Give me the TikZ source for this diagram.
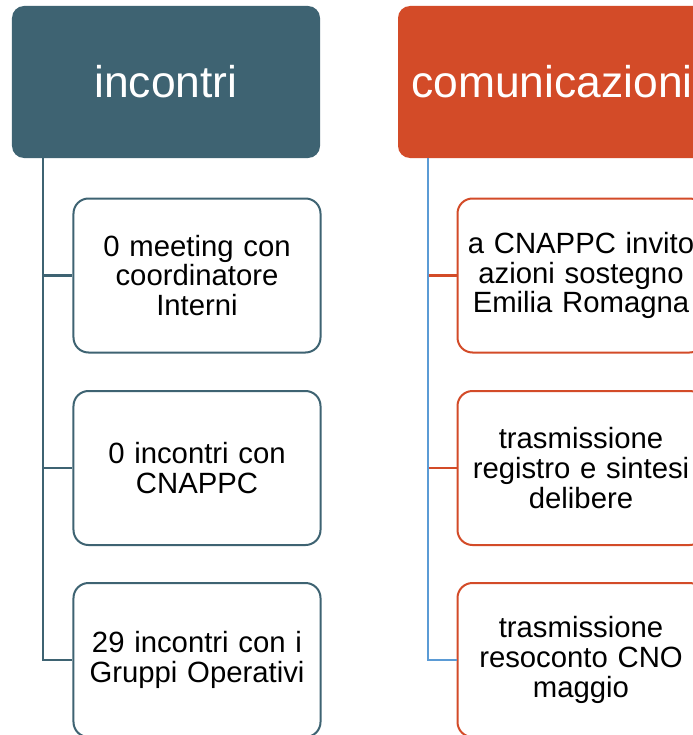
\documentclass[tikz,border=0pt]{standalone}
\usepackage{fontspec}
\setmainfont{Liberation Sans}
\definecolor{teal}{RGB}{62,99,114}
\definecolor{orng}{RGB}{211,75,40}
\definecolor{blu}{RGB}{91,155,213}
\tikzset{
  x=1bp,y=1bp,
  head/.style={draw=none,fill=#1,rounded corners=12bp,minimum width=308bp,minimum height=152bp,
    inner sep=0pt,text=white,font=\fontsize{44.6}{46}\selectfont},
  child/.style={draw=#1,line width=2bp,fill=white,rounded corners=15bp,minimum width=247bp,
    minimum height=154bp,inner sep=0pt,align=center,text width=240bp,font=\fontsize{29.4}{30}\selectfont},
  conn/.style={draw=#1,line width=2.5bp}
}
\begin{document}
\begin{tikzpicture}
\useasboundingbox (0,0) rectangle (693,-735);
\clip (0,0) rectangle (693,-735);
% left column
\node[head=teal] (h1) at (166,-82) {incontri};
\node[child=teal] (a1) at (197,-275.5) {0 meeting con\\coordinatore\\Interni};
\node[child=teal] (a2) at (197,-468) {0 incontri con\\CNAPPC};
\node[child=teal] (a3) at (197,-660) {29 incontri con i\\Gruppi Operativi};
\coordinate (s1) at ([xshift=31bp]h1.south west);
\draw[conn=teal] (s1) |- (a1.west);
\draw[conn=teal] (s1) |- (a2.west);
\draw[conn=teal] (s1) |- (a3.west);
% right column
\node[head=orng] (h2) at (552,-82) {comunicazioni};
\node[child=orng] (b1) at (581,-275.5) {a CNAPPC invito\\azioni sostegno\\Emilia Romagna};
\node[child=orng] (b2) at (581,-468) {trasmissione\\registro e sintesi\\delibere};
\node[child=orng] (b3) at (581,-660) {trasmissione\\resoconto CNO\\maggio};
\coordinate (s2) at ([xshift=30bp]h2.south west);
\draw[conn=orng] (s2) |- (b1.west);
\draw[conn=orng] (s2) |- (b2.west);
\draw[conn=blu] (s2) |- (b3.west);
\end{tikzpicture}
\end{document}
